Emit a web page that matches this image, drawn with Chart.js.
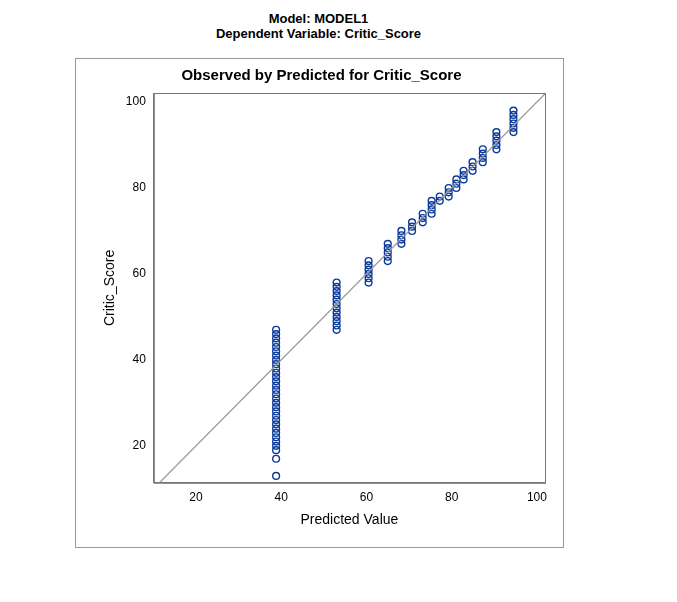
<!DOCTYPE html>
<html><head><meta charset="utf-8">
<script src="https://cdn.jsdelivr.net/npm/chart.js@4/dist/chart.umd.min.js"></script>
<style>
body{margin:0;background:#fff;font-family:Arial,"Liberation Sans",sans-serif}
.t{position:absolute;left:0;width:637px;text-align:center;font-weight:bold;font-size:13px;color:#000}
#box{position:absolute;left:75px;top:58px;width:487px;height:488px;border:1px solid #999}
</style></head><body>
<div class="t" style="top:11px">Model: MODEL1</div>
<div class="t" style="top:26px">Dependent Variable: Critic_Score</div>
<div id="box"><canvas id="c" width="487" height="488"></canvas></div>
<script>
// predicted value columns and observed score ranges for each
const predicted = [38.8, 53, 60.5, 65, 68.2, 70.7, 73.2, 75.3, 77.2, 79.3, 81.1, 82.8, 84.9, 87.3, 90.5, 94.5];
const scoreLow  = [19, 47, 58, 63, 67, 70, 72, 74, 77, 78, 80, 82, 84, 86, 89, 93];
const scoreHigh = [47, 58, 63, 67, 70, 72, 74, 77, 78, 80, 82, 84, 86, 89, 93, 98];
const extraPoints = [{x: 38.8, y: 13}, {x: 38.8, y: 17}];
const tickVals = [20, 40, 60, 80, 100];

const points = [];
predicted.forEach((p, i) => {
  for (let s = scoreLow[i]; s <= scoreHigh[i]; s++) points.push({x: p, y: s});
});
extraPoints.forEach(p => points.push(p));

const frame = {
  id: 'frame',
  afterDraw(chart) {
    const {ctx, chartArea: a} = chart;
    ctx.save();
    ctx.strokeStyle = '#777';
    ctx.lineWidth = 1;
    ctx.strokeRect(a.left + 0.5, a.top + 0.5, a.right - a.left, a.bottom - a.top);
    ctx.restore();
  }
};

const setTicks = s => { s.ticks = tickVals.map(v => ({value: v})); };

new Chart(document.getElementById('c'), {
  type: 'scatter',
  data: {
    datasets: [
      {type: 'line', data: [{x: 10, y: 10}, {x: 103, y: 103}], borderColor: '#999', borderWidth: 1.3, pointRadius: 0},
      {data: points, pointRadius: 3.4, borderColor: '#0b3a9c', borderWidth: 1.4, backgroundColor: 'rgba(0,0,0,0)'}
    ]
  },
  options: {
    responsive: false,
    animation: false,
    layout: {padding: {top: 0, right: 18, left: 22, bottom: 14}},
    plugins: {
      legend: {display: false},
      tooltip: {enabled: false},
      title: {display: true, text: 'Observed by Predicted for Critic_Score', color: '#000',
        font: {size: 15, weight: 'bold', family: 'Arial'}, padding: {top: 8, bottom: 8}}
    },
    scales: {
      x: {min: 10.1, max: 101.9, afterBuildTicks: setTicks,
        grid: {display: false, drawTicks: true, tickLength: 5}, border: {color: '#777'},
        ticks: {color: '#000', font: {size: 12}},
        title: {display: true, text: 'Predicted Value', color: '#000', font: {size: 14}}},
      y: {min: 11.4, max: 102.1, afterBuildTicks: setTicks,
        grid: {display: false, tickLength: 5}, border: {color: '#777'},
        ticks: {color: '#000', font: {size: 12}},
        title: {display: true, text: 'Critic_Score', color: '#000', font: {size: 14}}}
    }
  },
  plugins: [frame]
});
</script>
</body></html>
